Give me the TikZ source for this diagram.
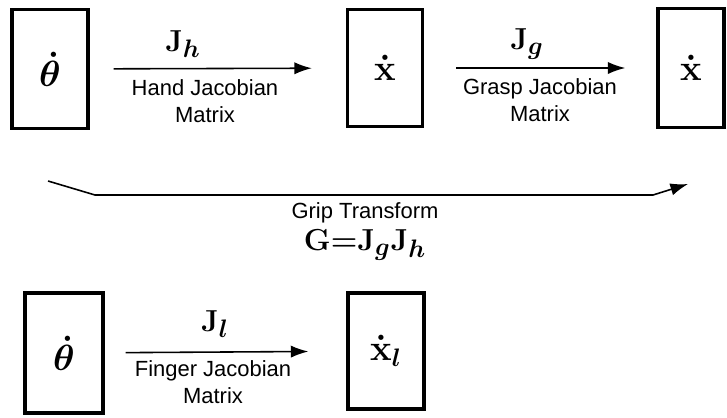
\documentclass[tikz,border=0pt]{standalone}
\usepackage{amsmath}
\usepackage{bm}
\usepackage[no-math]{fontspec}
\setmainfont{Liberation Sans}
\usetikzlibrary{arrows.meta}

\tikzset{
  var/.style={draw, line width=1.9pt, inner sep=0pt, font=\fontsize{22}{24}\selectfont\boldmath},
  flow/.style={line width=0.9pt, -{Latex[length=10pt,width=7pt]}},
  jac/.style={font=\fontsize{19}{21}\selectfont\boldmath},
  note/.style={font=\fontsize{12.5}{15.5}\selectfont, align=center},
}

\begin{document}
\begin{tikzpicture}[x=0.02cm, y=-0.02cm]
  \useasboundingbox (0,0) rectangle (727,417);

  % hand -> object chain
  \node[var, minimum width=1.52cm, minimum height=2.38cm] (thetah) at (50,69) {$\dot{\theta}$};
  \node[var, minimum width=1.5cm, minimum height=2.34cm] (xh) at (385,68) {$\dot{\mathbf{x}}$};
  \node[var, minimum width=1.32cm, minimum height=2.38cm] (xg) at (691,68) {$\dot{\mathbf{x}}$};

  \draw[flow, shorten <=0.48cm, shorten >=0.68cm] (thetah) -- (xh);
  \draw[flow, shorten <=0.64cm, shorten >=0.62cm] (xh) -- (xg);

  \node[jac] (jh) at (183,44) {$\mathbf{J}_{h}$};
  \node[note] (handjac) at (205,101) {Hand Jacobian\\Matrix};
  \node[jac] (jg) at (527,44) {$\mathbf{J}_{g}$};
  \node[note] (graspjac) at (540,100) {Grasp Jacobian\\Matrix};

  % grip transform
  \coordinate (gripin) at (48,181);
  \coordinate (gripout) at (688,184);
  \draw[flow] (gripin) -- (95,195) -- (653,195) -- (gripout);
  \node[note] (grip) at (365,213) {Grip Transform};
  \node[jac] (gdef) at (365,245) {$\mathbf{G}{=}\mathbf{J}_{g}\mathbf{J}_{h}$};

  % single finger
  \node[var, minimum width=1.56cm, minimum height=2.4cm] (thetaf) at (64,353) {$\dot{\theta}$};
  \node[var, minimum width=1.52cm, minimum height=2.32cm] (xf) at (386,351) {$\dot{\mathbf{x}}_{l}$};

  \draw[flow, shorten <=0.42cm, shorten >=0.76cm] (thetaf) -- (xf);

  \node[jac] (jl) at (215,324) {$\mathbf{J}_{l}$};
  \node[note] (fingerjac) at (213,382) {Finger Jacobian\\Matrix};
\end{tikzpicture}
\end{document}
